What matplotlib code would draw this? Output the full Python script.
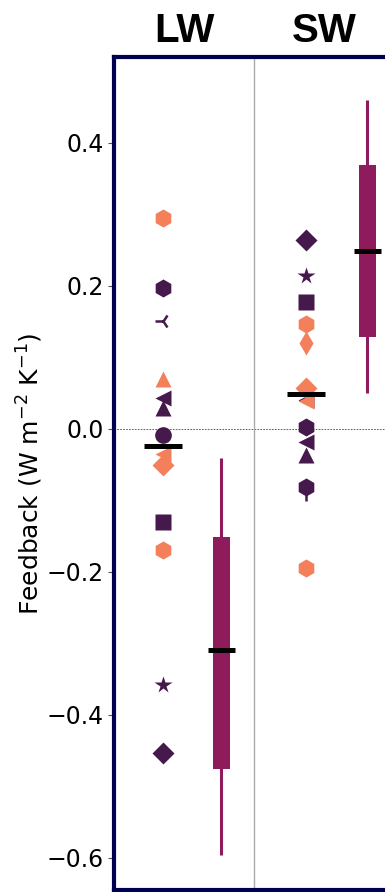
import matplotlib.pyplot as plt

# model feedbacks (W m-2 K-1) per component, with marker and colour group
lw_values = [0.295, 0.197, 0.151, 0.070, 0.043, 0.029, -0.008, -0.035, -0.050, -0.131, -0.169, -0.358, -0.453]
lw_markers = ['h', 'h', '3', '^', '<', '^', 'o', '<', 'D', 's', 'h', '*', 'D']
lw_groups = ['b', 'a', 'a', 'b', 'a', 'a', 'a', 'b', 'b', 'a', 'b', 'a', 'a']

sw_values = [0.264, 0.214, 0.178, 0.147, 0.120, 0.040, 0.057, 0.039, 0.003, -0.019, -0.036, -0.090, -0.081, -0.195]
sw_markers = ['D', '*', 's', 'h', 'd', '<', 'D', '<', 'h', '<', '^', '1', 'h', 'h']
sw_groups = ['a', 'a', 'a', 'b', 'b', 'a', 'b', 'b', 'a', 'a', 'a', 'a', 'a', 'b']

model_mean = {'LW': -0.024, 'SW': 0.048}
# observational estimate: whisker min, q1, median, q3, whisker max
obs_stats = {'LW': [-0.596, -0.476, -0.310, -0.151, -0.041],
             'SW': [0.050, 0.129, 0.248, 0.369, 0.460]}

colors = {'a': '#45194b', 'b': '#f47f5b'}
box_color = '#8e1b5b'
sizes = {'h': 13, 'o': 12, '^': 12, '<': 12, 'D': 11, 'd': 12, 's': 11, '*': 13}

fig = plt.figure(figsize=(3.85, 8.92), dpi=100)
ax = fig.add_axes([114 / 385, 2 / 892, 280 / 385, 833 / 892])

groups = [('LW', lw_values, lw_markers, lw_groups, -0.15, 0.265),
          ('SW', sw_values, sw_markers, sw_groups, 0.87, 1.31)]

for i, (name, vals, marks, grp, xp, xb) in enumerate(groups):
    for v, m, g in zip(vals, marks, grp):
        if m in ('3', '1'):
            ax.plot(xp, v, marker=m, color=colors[g], ms=11, mew=1.8, ls='none', zorder=3)
        else:
            ax.plot(xp, v, marker=m, color=colors[g], ms=sizes[m], mec='none', ls='none', zorder=3)
    ax.hlines(model_mean[name], xp - 0.135, xp + 0.135, color='black', lw=3.6, zorder=4)

    lo, q1, med, q3, hi = obs_stats[name]
    ax.vlines(xb, lo, hi, color=box_color, lw=2.2, zorder=2)
    ax.bar(xb, q3 - q1, bottom=q1, width=0.12, color=box_color, zorder=2)
    ax.hlines(med, xb - 0.097, xb + 0.097, color='black', lw=3.6, zorder=4)

    ax.text(i, 1.018, name, transform=ax.get_xaxis_transform(), ha='center',
            va='baseline', fontsize=29, fontweight='bold', family='Liberation Sans')

ax.axhline(0, color='#444444', lw=0.6, ls=(0, (2, 1.5)), zorder=1)
ax.axvline(0.5, color='#aaaaaa', lw=1.0, zorder=1)

ax.set_xlim(-0.5, 1.5)
ax.set_ylim(-0.645, 0.52)
ax.set_xticks([])
ax.set_yticks([-0.6, -0.4, -0.2, 0.0, 0.2, 0.4])
ax.set_yticklabels(['\u22120.6', '\u22120.4', '\u22120.2', '0.0', '0.2', '0.4'])
ax.tick_params(axis='y', labelsize=17, length=4, color='#555555')
ax.set_ylabel('Feedback (W m$^{-2}$ K$^{-1}$)', fontsize=18, labelpad=1)

for s in ax.spines.values():
    s.set_color('#000050')
    s.set_linewidth(3)

fig.savefig('out.png', dpi=100)
